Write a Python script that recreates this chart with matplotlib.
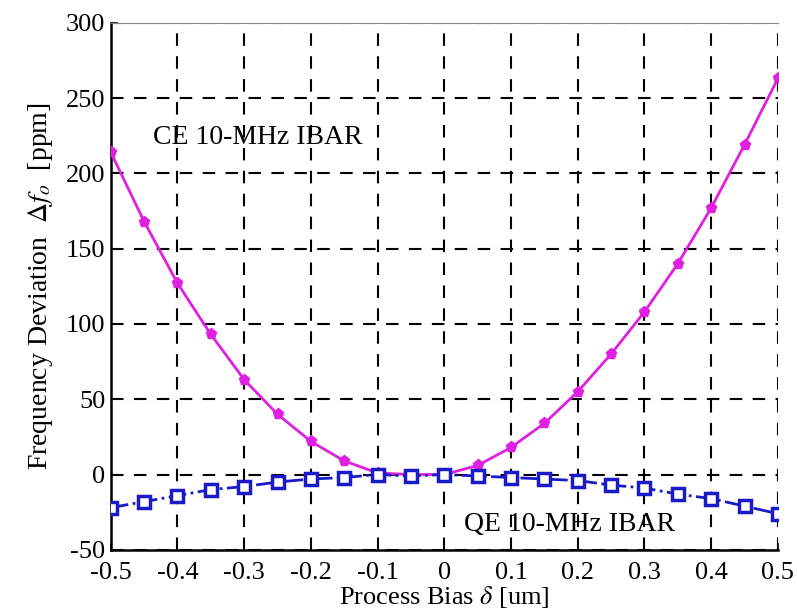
import numpy as np
import matplotlib
matplotlib.use('Agg')
import matplotlib.pyplot as plt

# Process bias values [um]
bias = [-0.5, -0.45, -0.4, -0.35, -0.3, -0.25, -0.2, -0.15, -0.1, -0.05, 0.0,
        0.05, 0.1, 0.15, 0.2, 0.25, 0.3, 0.35, 0.4, 0.45, 0.5]

# frequency deviation [ppm]
ce_dev = [214, 168, 127, 93, 63, 40, 22, 9, 1, 0, 0,
          6, 18, 34, 55, 80, 108, 140, 177, 219, 263]
qe_dev = [-22, -18, -14, -10, -8, -5, -3, -2, 0, -1, 0,
          -1, -2, -3, -4, -7, -9, -13, -16, -21, -26]

xticks = [-0.5, -0.4, -0.3, -0.2, -0.1, 0, 0.1, 0.2, 0.3, 0.4, 0.5]
xticklabels = ['-0.5', '-0.4', '-0.3', '-0.2', '-0.1', '0', '0.1', '0.2', '0.3', '0.4', '0.5']
yticks = [-50, 0, 50, 100, 150, 200, 250, 300]
yticklabels = ['-50', '0', '50', '100', '150', '200', '250', '300']

plt.rcParams['font.family'] = ['Liberation Serif', 'DejaVu Serif']
plt.rcParams['mathtext.fontset'] = 'stix'
plt.rcParams['axes.unicode_minus'] = False

fig = plt.figure(figsize=(7.97, 6.15), dpi=100)
ax = fig.add_axes([0.139, 0.106, 0.837, 0.857])

ax.plot(bias, ce_dev, color='#e020e0', lw=2, marker='p', ms=8,
        mfc='#e020e0', mec='#e020e0', zorder=3)
ax.plot(bias, qe_dev, color='#1a1ac8', lw=2, ls='-.', marker='s', ms=9,
        mfc='white', mec='#1a1ac8', mew=2.5, zorder=3)

ax.set_xlim(-0.5, 0.5)
ax.set_ylim(-50, 300)
ax.set_xticks(xticks)
ax.set_xticklabels(xticklabels)
ax.set_yticks(yticks)
ax.set_yticklabels(yticklabels)
ax.tick_params(direction='in', labelsize=19, length=5, width=1.2)
ax.tick_params(axis='x', pad=9)
ax.tick_params(axis='y', pad=4)

ax.grid(True, color='black', ls=(0, (6, 5)), lw=1.5)
ax.spines['left'].set_linewidth(1.8)
ax.spines['bottom'].set_linewidth(1.8)
ax.spines['top'].set_color('#888888')
ax.spines['right'].set_visible(False)

ax.text(-0.28, 224, 'CE 10-MHz IBAR', fontsize=20, ha='center', va='center')
ax.text(0.187, -33, 'QE 10-MHz IBAR', fontsize=20, ha='center', va='center')

ax.set_xlabel(r'Process Bias $\delta$ [um]', fontsize=19, labelpad=0)
ax.set_ylabel(r'Frequency Deviation  $\Delta f_o$  [ppm]', fontsize=20, labelpad=8)

fig.savefig('out.png', dpi=100)
